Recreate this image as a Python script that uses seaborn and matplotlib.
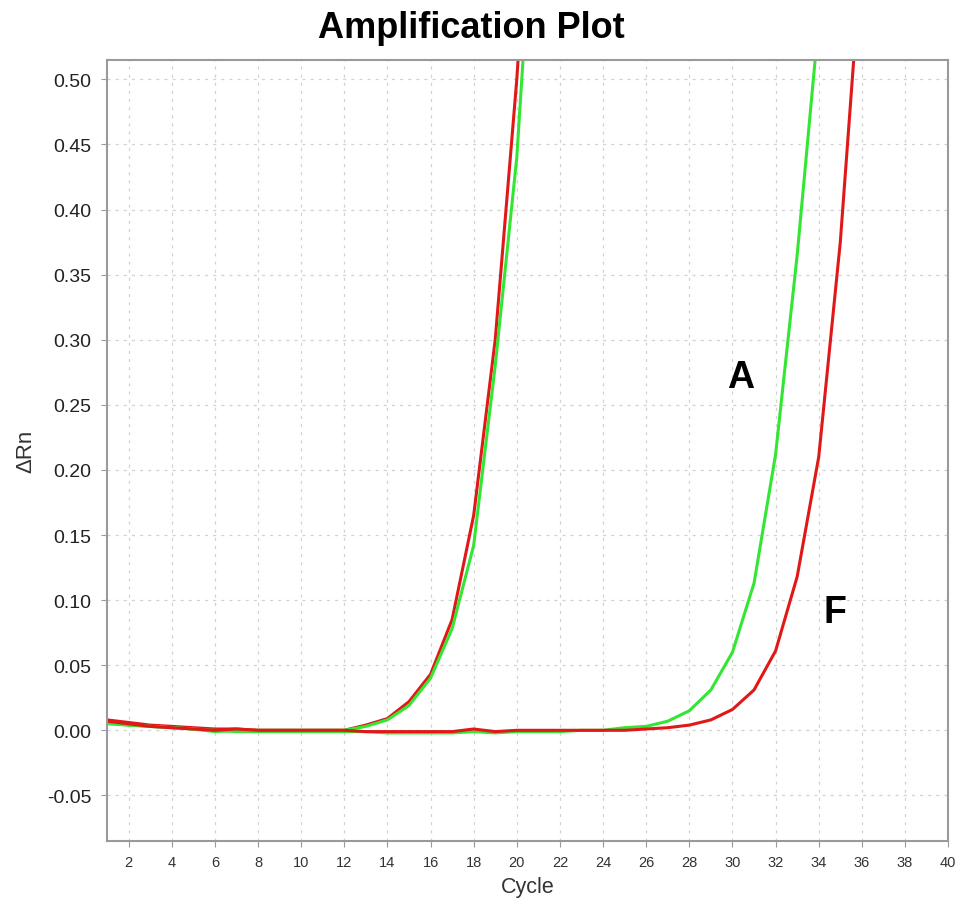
import seaborn as sns
import matplotlib.pyplot as plt
import pandas as pd

# Amplification curves (delta Rn per cycle)
cycles = list(range(1, 41))

early_red = [0.008, 0.006, 0.004, 0.003, 0.002, 0.001, 0.001, 0.000, 0.000, 0.000,
             0.000, 0.000, 0.004, 0.009, 0.022, 0.043, 0.085, 0.165, 0.300, 0.500,
             0.750, 1.020, 1.280, 1.490, 1.650, 1.770, 1.860, 1.930, 1.980, 2.010,
             2.040, 2.060, 2.070, 2.080, 2.090, 2.100, 2.100, 2.110, 2.110, 2.120]
early_green = [0.006, 0.004, 0.003, 0.002, 0.001, -0.001, 0.000, 0.000, 0.000, 0.000,
               0.000, 0.000, 0.003, 0.008, 0.019, 0.040, 0.078, 0.142, 0.280, 0.440,
               0.700, 0.980, 1.240, 1.450, 1.610, 1.730, 1.820, 1.890, 1.940, 1.970,
               2.000, 2.020, 2.030, 2.040, 2.050, 2.060, 2.060, 2.070, 2.070, 2.080]
late_green = [0.005, 0.004, 0.003, 0.002, 0.001, 0.000, -0.001, -0.001, -0.001, -0.001,
              -0.001, -0.001, -0.001, -0.002, -0.002, -0.002, -0.002, -0.001, -0.002, -0.001,
              -0.001, -0.001, 0.000, 0.000, 0.002, 0.003, 0.007, 0.015, 0.031, 0.060,
              0.113, 0.212, 0.365, 0.545, 0.800, 1.030, 1.210, 1.350, 1.450, 1.520]
late_red = [0.007, 0.005, 0.003, 0.002, 0.001, 0.000, 0.001, 0.000, 0.000, 0.000,
            0.000, 0.000, -0.001, -0.001, -0.001, -0.001, -0.001, 0.001, -0.001, 0.000,
            0.000, 0.000, 0.000, 0.000, 0.000, 0.001, 0.002, 0.004, 0.008, 0.016,
            0.031, 0.061, 0.118, 0.210, 0.375, 0.600, 0.840, 1.040, 1.190, 1.290]

series = {"W1": early_red, "W2": early_green, "W3": late_green, "W4": late_red}
colors = {"W1": "#e01818", "W2": "#33e633", "W3": "#33e633", "W4": "#e01818"}

df = pd.DataFrame([{"cycle": c, "drn": v, "well": k}
                   for k, vals in series.items() for c, v in zip(cycles, vals)])

sns.set_style("white")
plt.rcParams['font.family'] = ['Liberation Sans', 'DejaVu Sans']

fig = plt.figure(figsize=(9.58, 9.03), dpi=100)
ax = fig.add_axes([0.1117, 0.0676, 0.878, 0.865])

sns.lineplot(data=df, x="cycle", y="drn", hue="well", palette=colors,
             linewidth=2.2, legend=False, ax=ax)

ax.set_xlim(1, 40)
ax.set_ylim(-0.085, 0.515)
ax.set_xticks(range(2, 41, 2))
ax.set_yticks([-0.05, 0.0, 0.05, 0.10, 0.15, 0.20, 0.25, 0.30, 0.35, 0.40, 0.45, 0.50])
ax.set_yticklabels(["-0.05", "0.00", "0.05", "0.10", "0.15", "0.20", "0.25",
                    "0.30", "0.35", "0.40", "0.45", "0.50"])
ax.grid(True, color="#d2d2d2", linestyle=(0, (2.5, 4)), linewidth=0.9)
ax.set_axisbelow(True)
for s in ax.spines.values():
    s.set_color("#9a9a9a")
    s.set_linewidth(1.5)
ax.tick_params(axis="y", labelsize=14, colors="#9a9a9a", labelcolor="#222222",
               length=4, pad=7, direction="out", left=True)
ax.tick_params(axis="x", labelsize=10.5, colors="#9a9a9a", labelcolor="#333333",
               length=4, pad=6, direction="out", bottom=True)

ax.set_xlabel("Cycle", fontsize=15.5, color="#333333", labelpad=5)
ax.set_ylabel("ΔRn", fontsize=16, color="#333333", labelpad=8)
fig.suptitle("Amplification Plot", x=0.492, y=0.988, fontsize=26,
             fontweight="bold", color="black")

ax.text(30.37, 0.2715, "A", fontsize=27, fontweight="bold", color="black",
        ha="center", va="center")
ax.text(34.77, 0.0908, "F", fontsize=27, fontweight="bold", color="black",
        ha="center", va="center")

fig.savefig("out.png", dpi=100)
